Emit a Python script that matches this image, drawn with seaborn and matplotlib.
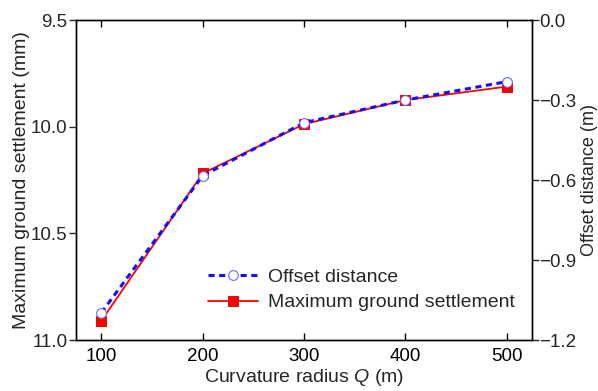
import matplotlib
matplotlib.use("Agg")
import matplotlib.pyplot as plt
import seaborn as sns
import pandas as pd

radius = [100, 200, 300, 400, 500]
settlement = [10.91, 10.219, 9.988, 9.875, 9.812]
offset = [-1.098, -0.584, -0.385, -0.300, -0.231]

left_ticks = [9.5, 10.0, 10.5, 11.0]
right_ticks = [0.0, -0.3, -0.6, -0.9, -1.2]
x_ticks = [100, 200, 300, 400, 500]

sns.set_theme(style="white")
plt.rcParams['font.family'] = ['Liberation Sans', 'DejaVu Sans']
plt.rcParams['axes.unicode_minus'] = True
plt.rcParams['mathtext.fontset'] = 'custom'
plt.rcParams['mathtext.it'] = 'Liberation Sans:italic'
plt.rcParams['mathtext.rm'] = 'Liberation Sans'

df = pd.DataFrame({"radius": radius, "settlement": settlement, "offset": offset})

fig = plt.figure(figsize=(5.98, 3.91), dpi=100)
ax = fig.add_axes([0.127, 0.1304, 0.763, 0.8184])
ax2 = ax.twinx()

sns.lineplot(data=df, x="radius", y="settlement", ax=ax, color="#ff0000",
             marker="s", markersize=7, markeredgecolor="#ff0000", linewidth=1.3,
             label="Maximum ground settlement", legend=False)
sns.lineplot(data=df, x="radius", y="offset", ax=ax2, color="#1010ff",
             marker="o", markersize=7, markerfacecolor="white", markeredgecolor="#6060ff",
             linewidth=2.2, linestyle=(0, (2, 1.5)),
             label="Offset distance", legend=False)

ax.set_xlim(75, 525)
ax.set_ylim(11.0, 9.5)
ax2.set_ylim(-1.2, 0.0)
ax.set_xticks(x_ticks)
ax.set_yticks(left_ticks)
ax.set_yticklabels([f"{v:.1f}" for v in left_ticks])
ax2.set_yticks(right_ticks)
ax2.set_yticklabels([f"{v:.1f}".replace("-", "\u2212") if v != 0 else "0.0" for v in right_ticks])

fs = 14
tfs = 13.5
ax.set_xlabel("Curvature radius $Q$ (m)", fontsize=fs, labelpad=1)
ax.set_ylabel("Maximum ground settlement (mm)", fontsize=fs, labelpad=1)
ax2.set_ylabel("Offset distance (m)", fontsize=13, labelpad=3)

ax.tick_params(axis="x", which="both", direction="in", top=True, bottom=True,
               length=5, width=1, labelsize=tfs, pad=6, colors="black")
ax.tick_params(axis="y", direction="out", left=True, length=5, width=1,
               labelsize=tfs, pad=1)
ax2.tick_params(axis="y", direction="out", right=True, length=5, width=1,
                labelsize=tfs, pad=0)

for a in (ax, ax2):
    for s in a.spines.values():
        s.set_color("black")
        s.set_linewidth(1.0)
    a.grid(False)

h1, l1 = ax.get_legend_handles_labels()
h2, l2 = ax2.get_legend_handles_labels()
ax2.legend(h2 + h1, l2 + l1, loc="lower right", bbox_to_anchor=(1.0, 0.035),
           frameon=False, fontsize=fs, handlelength=2.6, handletextpad=0.5,
           labelspacing=0.4)

fig.savefig("out.png", dpi=100)
